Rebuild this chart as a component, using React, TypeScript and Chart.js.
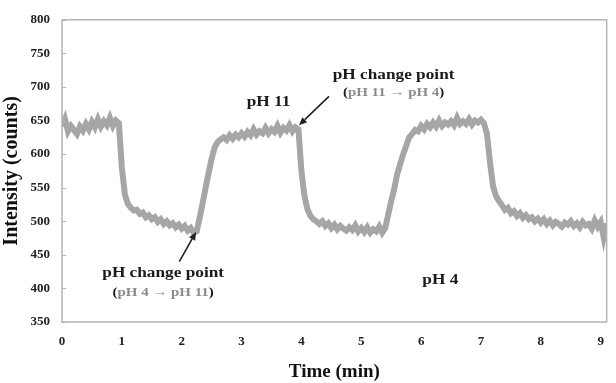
import React, { useEffect, useRef } from 'react';
import { Chart, registerables } from 'chart.js';

Chart.register(...registerables);

// Sampling times (min)
const TIMES = [
  0, 0.05, 0.1, 0.15, 0.2, 0.25, 0.3, 0.35, 0.4, 0.45,
  0.5, 0.55, 0.6, 0.65, 0.7, 0.75, 0.8, 0.85, 0.9, 0.95,
  1, 1.05, 1.1, 1.15, 1.2, 1.25, 1.3, 1.35, 1.4, 1.45,
  1.5, 1.55, 1.6, 1.65, 1.7, 1.75, 1.8, 1.85, 1.9, 1.95,
  2, 2.05, 2.1, 2.15, 2.2, 2.25, 2.3, 2.35, 2.4, 2.45,
  2.5, 2.55, 2.6, 2.65, 2.7, 2.75, 2.8, 2.85, 2.9, 2.95,
  3, 3.05, 3.1, 3.15, 3.2, 3.25, 3.3, 3.35, 3.4, 3.45,
  3.5, 3.55, 3.6, 3.65, 3.7, 3.75, 3.8, 3.85, 3.9, 3.95,
  4, 4.05, 4.1, 4.15, 4.2, 4.25, 4.3, 4.35, 4.4, 4.45,
  4.5, 4.55, 4.6, 4.65, 4.7, 4.75, 4.8, 4.85, 4.9, 4.95,
  5, 5.05, 5.1, 5.15, 5.2, 5.25, 5.3, 5.35, 5.4, 5.45,
  5.5, 5.55, 5.6, 5.65, 5.7, 5.75, 5.8, 5.85, 5.9, 5.95,
  6, 6.05, 6.1, 6.15, 6.2, 6.25, 6.3, 6.35, 6.4, 6.45,
  6.5, 6.55, 6.6, 6.65, 6.7, 6.75, 6.8, 6.85, 6.9, 6.95,
  7, 7.05, 7.1, 7.15, 7.2, 7.25, 7.3, 7.35, 7.4, 7.45,
  7.5, 7.55, 7.6, 7.65, 7.7, 7.75, 7.8, 7.85, 7.9, 7.95,
  8, 8.05, 8.1, 8.15, 8.2, 8.25, 8.3, 8.35, 8.4, 8.45,
  8.5, 8.55, 8.6, 8.65, 8.7, 8.75, 8.8, 8.85, 8.9, 8.95,
  9, 9.05, 9.1,
];

// Intensity (counts)
const INTENSITY = [
  641, 652, 634, 642, 636, 630, 641, 635, 645, 637,
  648, 640, 652, 641, 649, 643, 654, 642, 650, 646,
  580, 540, 526, 520, 516, 517, 511, 513, 506, 509,
  503, 506, 499, 503, 496, 500, 494, 497, 491, 495,
  489, 493, 486, 490, 483, 485, 505, 527, 550, 572,
  593, 610, 618, 622, 625, 621, 628, 623, 629, 625,
  631, 626, 633, 628, 637, 629, 634, 631, 639, 631,
  637, 633, 642, 632, 639, 635, 643, 634, 640, 637,
  575, 538, 518, 508, 503, 500, 496, 500, 493, 497,
  490, 495, 488, 493, 489, 486, 491, 487, 494, 485,
  490, 484, 491, 483, 488, 485, 492, 483, 490, 510,
  530, 548, 570, 585, 600, 612, 625, 630, 636, 634,
  642, 637, 645, 640, 647, 641, 650, 642, 647, 644,
  649, 643, 654, 645, 649, 645, 652, 644, 650, 647,
  651, 646, 630, 588, 553, 538, 530, 524, 517, 520,
  512, 515, 508, 512, 505, 509, 503, 506, 500, 504,
  498, 503, 496, 501, 494, 499, 496, 492, 498, 495,
  500, 493, 497, 491, 499, 494, 496, 489, 501, 492,
  499, 476, 497,
];

const X_TICKS = [0, 1, 2, 3, 4, 5, 6, 7, 8, 9];
const Y_TICKS = [350, 400, 450, 500, 550, 600, 650, 700, 750, 800];

const X_MIN = 0;
const X_MAX = 9.1;
const Y_MIN = 350;
const Y_MAX = 800;

const X_TITLE = 'Time (min)';
const Y_TITLE = 'Intensity (counts)';

const DARK = '#1a1a1a';
const GREY = '#8c8c8c';

// Annotation texts anchored in data coordinates
const LABELS = [
  { x: 3.45, y: 678, parts: [{ t: 'pH 11', c: DARK }] },
  { x: 5.54, y: 718, parts: [{ t: 'pH change point', c: DARK }] },
  { x: 5.54, y: 691, parts: [{ t: '(', c: DARK }, { t: 'pH 11 \u2192 pH 4', c: GREY }, { t: ')', c: DARK }], small: true },
  { x: 1.69, y: 423, parts: [{ t: 'pH change point', c: DARK }] },
  { x: 1.69, y: 394, parts: [{ t: '(', c: DARK }, { t: 'pH 4 \u2192 pH 11', c: GREY }, { t: ')', c: DARK }], small: true },
  { x: 6.32, y: 413, parts: [{ t: 'pH 4', c: DARK }] },
];

const ARROWS = [
  { x1: 4.46, y1: 686, x2: 3.96, y2: 643 },
  { x1: 1.96, y1: 440, x2: 2.24, y2: 484 },
];

const SERIF = "'Liberation Serif', 'Times New Roman', serif";

const decorPlugin = {
  id: 'decor',
  afterDraw(chart: any) {
    const { ctx, chartArea: a, scales } = chart;
    const xs = scales.x;
    const ys = scales.y;
    ctx.save();
    // frame
    ctx.strokeStyle = '#b4b4b4';
    ctx.lineWidth = 1.5;
    ctx.strokeRect(a.left, a.top, a.right - a.left, a.bottom - a.top);
    // inner tick marks on y axis
    ctx.lineWidth = 1;
    Y_TICKS.forEach((v) => {
      const py = Math.round(ys.getPixelForValue(v)) + 0.5;
      ctx.beginPath();
      ctx.moveTo(a.left, py);
      ctx.lineTo(a.left + 4, py);
      ctx.stroke();
    });
    // arrows
    ctx.strokeStyle = '#222';
    ctx.fillStyle = '#222';
    ctx.lineWidth = 1.6;
    ARROWS.forEach((ar) => {
      const x1 = xs.getPixelForValue(ar.x1);
      const y1 = ys.getPixelForValue(ar.y1);
      const x2 = xs.getPixelForValue(ar.x2);
      const y2 = ys.getPixelForValue(ar.y2);
      const ang = Math.atan2(y2 - y1, x2 - x1);
      const hl = 8;
      const hw = 3.5;
      const bx = x2 - hl * Math.cos(ang);
      const by = y2 - hl * Math.sin(ang);
      ctx.beginPath();
      ctx.moveTo(x1, y1);
      ctx.lineTo(bx, by);
      ctx.stroke();
      ctx.beginPath();
      ctx.moveTo(x2, y2);
      ctx.lineTo(bx + hw * Math.sin(ang), by - hw * Math.cos(ang));
      ctx.lineTo(bx - hw * Math.sin(ang), by + hw * Math.cos(ang));
      ctx.closePath();
      ctx.fill();
    });
    // labels
    LABELS.forEach((lb: any) => {
      const cx = xs.getPixelForValue(lb.x);
      const cy = ys.getPixelForValue(lb.y);
      ctx.font = `bold ${lb.small ? 13 : 15}px ${SERIF}`;
      ctx.textBaseline = 'middle';
      ctx.textAlign = 'left';
      const widths = lb.parts.map((p: any) => ctx.measureText(p.t).width);
      const total = widths.reduce((s: number, w: number) => s + w, 0);
      const sx = 1.15;
      ctx.save();
      ctx.translate(cx, cy);
      ctx.scale(sx, 1);
      let x = -total / 2;
      lb.parts.forEach((p: any, i: number) => {
        ctx.fillStyle = p.c;
        ctx.fillText(p.t, x, 0);
        x += widths[i];
      });
      ctx.restore();
    });
    ctx.restore();
  },
};

export default function App() {
  const ref = useRef<HTMLCanvasElement | null>(null);
  useEffect(() => {
    if (!ref.current) return;
    const chart = new Chart(ref.current, {
      type: 'line',
      data: {
        datasets: [
          {
            label: 'Intensity',
            data: TIMES.map((t, i) => ({ x: t, y: INTENSITY[i] })),
            borderColor: '#a6a6a6',
            borderWidth: 6,
            borderJoinStyle: 'miter',
            borderCapStyle: 'butt',
            pointRadius: 0,
            tension: 0,
            fill: false,
          },
        ],
      },
      options: {
        animation: false,
        responsive: true,
        maintainAspectRatio: false,
        layout: { padding: { left: 0, right: 5, top: 13, bottom: 0 } },
        plugins: {
          legend: { display: false },
          tooltip: { enabled: false },
        },
        scales: {
          x: {
            type: 'linear',
            min: X_MIN,
            max: X_MAX,
            afterBuildTicks: (s: any) => {
              s.ticks = X_TICKS.map((v) => ({ value: v }));
            },
            afterFit: (s: any) => {
              s.height = 61;
            },
            grid: { display: false, drawTicks: false },
            border: { display: false },
            ticks: {
              padding: 12,
              color: '#222',
              font: { family: SERIF, size: 13, weight: 'bold' },
              maxRotation: 0,
            },
            title: {
              display: true,
              text: X_TITLE,
              color: '#111',
              padding: 0,
              font: { family: SERIF, size: 19, weight: 'bold' },
            },
          },
          y: {
            type: 'linear',
            min: Y_MIN,
            max: Y_MAX,
            afterBuildTicks: (s: any) => {
              s.ticks = Y_TICKS.map((v) => ({ value: v }));
            },
            afterFit: (s: any) => {
              s.width = 62;
            },
            grid: { display: false, drawTicks: false },
            border: { display: false },
            ticks: {
              padding: 12,
              color: '#222',
              font: { family: SERIF, size: 13, weight: 'bold' },
            },
            title: {
              display: true,
              text: Y_TITLE,
              color: '#111',
              padding: 0,
              font: { family: SERIF, size: 20, weight: 'bold' },
            },
          },
        },
      },
      plugins: [decorPlugin],
    } as any);
    return () => chart.destroy();
  }, []);
  return (
    <div style={{ position: 'fixed', left: 0, top: 0, width: 616, height: 383, background: '#fff' }}>
      <canvas ref={ref} />
    </div>
  );
}
